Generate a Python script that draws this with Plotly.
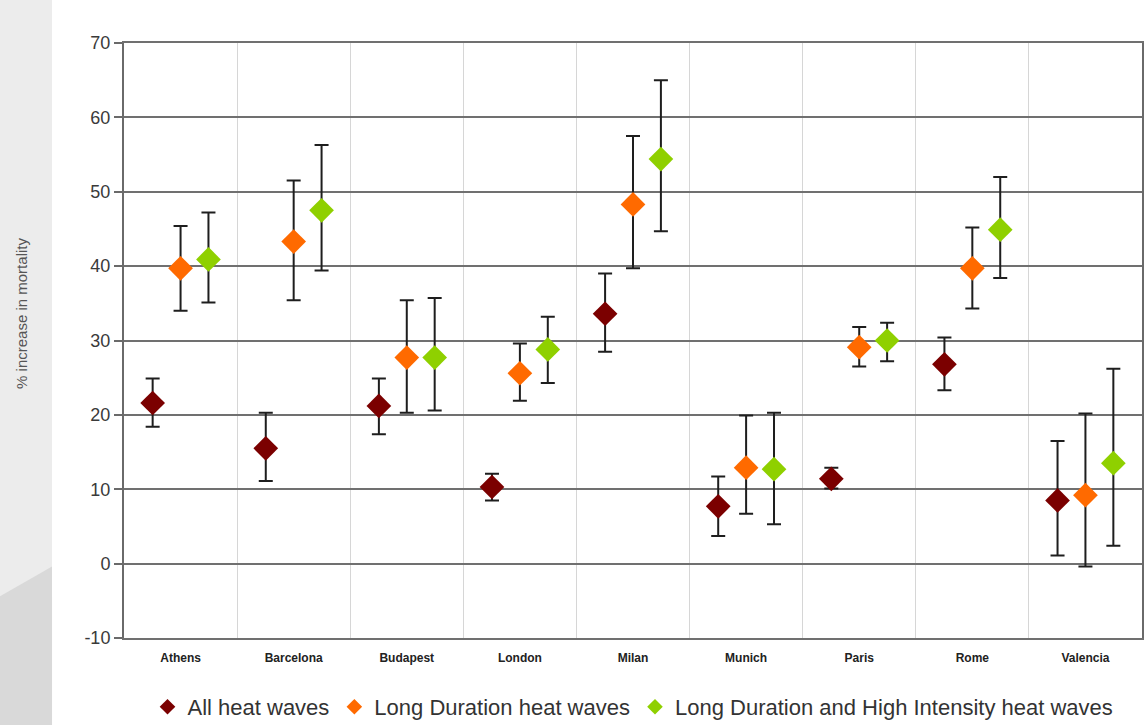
import plotly.graph_objects as go

# Cities on the horizontal axis
cities = ["Athens", "Barcelona", "Budapest", "London", "Milan",
          "Munich", "Paris", "Rome", "Valencia"]

# % increase in mortality with confidence bounds, per heat-wave definition
all_hw = [21.6, 15.5, 21.2, 10.3, 33.6, 7.7, 11.4, 26.8, 8.5]
all_hw_hi = [24.9, 20.3, 24.9, 12.1, 39.0, 11.7, 12.9, 30.4, 16.5]
all_hw_lo = [18.4, 11.1, 17.4, 8.5, 28.5, 3.7, 10.1, 23.3, 1.1]

long_hw = [39.7, 43.3, 27.7, 25.6, 48.3, 12.9, 29.1, 39.7, 9.2]
long_hw_hi = [45.4, 51.5, 35.4, 29.6, 57.5, 19.9, 31.8, 45.2, 20.2]
long_hw_lo = [34.0, 35.4, 20.3, 21.9, 39.7, 6.7, 26.5, 34.3, -0.4]

long_int_hw = [40.9, 47.5, 27.7, 28.8, 54.4, 12.7, 30.0, 44.9, 13.5]
long_int_hw_hi = [47.2, 56.3, 35.7, 33.2, 65.0, 20.3, 32.4, 52.0, 26.2]
long_int_hw_lo = [35.1, 39.4, 20.6, 24.3, 44.7, 5.3, 27.2, 38.4, 2.4]

# y-axis ticks (plain hyphen for the negative label)
y_ticks = [-10, 0, 10, 20, 30, 40, 50, 60, 70]
y_tick_text = ["-10", "0", "10", "20", "30", "40", "50", "60", "70"]

series = [
    ("All heat waves", all_hw, all_hw_hi, all_hw_lo, "#7b0000"),
    ("Long Duration heat waves", long_hw, long_hw_hi, long_hw_lo, "#ff6a00"),
    ("Long Duration and High Intensity heat waves", long_int_hw,
     long_int_hw_hi, long_int_hw_lo, "#8fd000"),
]

FONT = "Arial, Liberation Sans, sans-serif"

fig = go.Figure()
for name, vals, hi, lo, color in series:
    fig.add_trace(go.Scatter(
        x=cities, y=vals, name=name, mode="markers",
        marker=dict(symbol="diamond", size=19, color=color),
        error_y=dict(
            type="data", symmetric=False,
            array=[h - v for h, v in zip(hi, vals)],
            arrayminus=[v - l for v, l in zip(vals, lo)],
            color="#1e1e1e", thickness=2, width=7,
        ),
    ))

# Grey side panel behind the chart
fig.add_shape(type="rect", xref="paper", yref="paper",
              x0=-0.1218, x1=-0.0707, y0=-0.1462, y1=1.0723,
              fillcolor="#ececec", line_width=0, layer="below")
fig.add_shape(type="path", xref="paper", yref="paper",
              path="M -0.1218 0.07 L -0.0707 0.12 L -0.0707 -0.1462 L -0.1218 -0.1462 Z",
              fillcolor="#d9d9d9", line_width=0, layer="below")

fig.add_annotation(text="% increase in mortality", textangle=-90,
                   xref="paper", yref="paper", x=-0.1, xanchor="center",
                   y=0.545, yanchor="middle",
                   showarrow=False, font=dict(family=FONT, size=15, color="#555"))

fig.update_layout(
    width=1145, height=725,
    margin=dict(l=124, r=3, t=43, b=87, autoexpand=False),
    paper_bgcolor="white", plot_bgcolor="white",
    scattermode="group", scattergap=0.26,
    showlegend=True,
    legend=dict(orientation="h", x=0.5, xanchor="center", y=-0.116,
                yanchor="middle", font=dict(family=FONT, size=22, color="#333"),
                itemsizing="constant", tracegroupgap=0, itemwidth=30),
    xaxis=dict(
        type="category", range=[-0.5, len(cities) - 0.5],
        tickson="boundaries", showgrid=True, gridcolor="#d6d6d6", gridwidth=1,
        ticks="", showline=True, mirror=True, linecolor="#707070", linewidth=2,
        zeroline=False,
        tickfont=dict(family=FONT, size=12, color="#222", weight="bold"),
        ticklabelstandoff=8,
    ),
    yaxis=dict(
        range=[-10, 70], tickvals=y_ticks, ticktext=y_tick_text,
        showgrid=True, gridcolor="#707070", gridwidth=2,
        zeroline=False, showline=True, linecolor="#6a6a6a", linewidth=2,
        mirror=True, ticks="outside", ticklen=8, tickcolor="#6a6a6a",
        tickwidth=1.5,
        tickfont=dict(family=FONT, size=18, color="#3a3a3a"),
    ),
)

fig.write_html("out.html")
